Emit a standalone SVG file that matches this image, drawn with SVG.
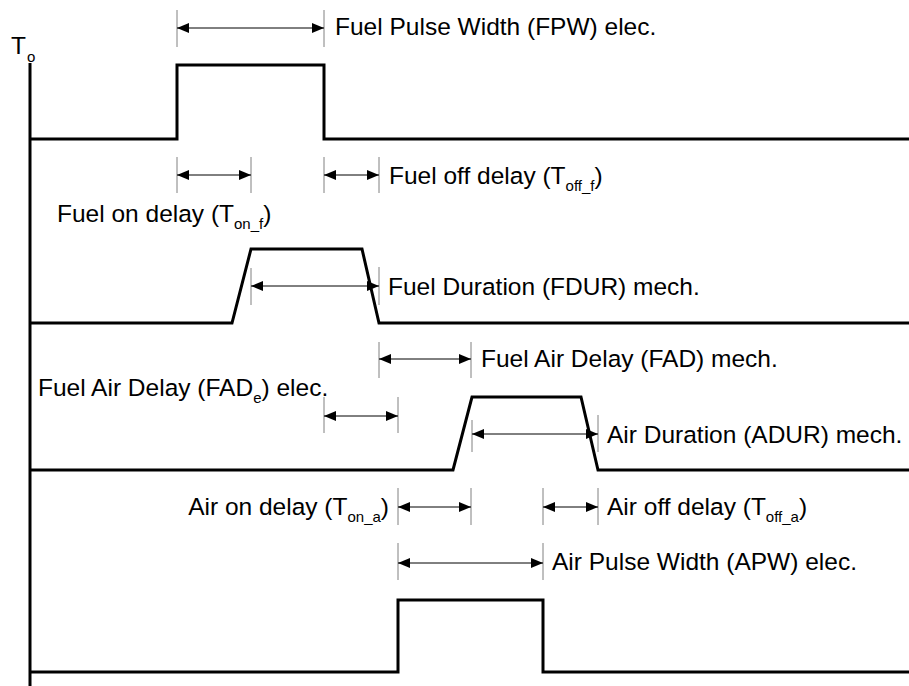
<svg xmlns="http://www.w3.org/2000/svg" width="909" height="686" viewBox="0 0 909 686">
<style>
.trace{fill:none;stroke:#000;stroke-width:3;stroke-linejoin:miter;stroke-linecap:butt}
.tick{stroke:#808080;stroke-width:1}
.dim{stroke:#000;stroke-width:1;marker-start:url(#ah);marker-end:url(#ah)}
text{font-family:"Liberation Sans",Arial,sans-serif;font-size:24.5px;fill:#000}
.sub{font-size:15px}
</style>
<defs>
<marker id="ah" viewBox="0 0 12 10" refX="12" refY="5" markerWidth="12" markerHeight="10" markerUnits="userSpaceOnUse" orient="auto-start-reverse">
<path d="M0,0 L12,5 L0,10 Z" fill="#000"/>
</marker>
</defs>
<rect width="909" height="686" fill="#fff"/>

<g id="axis">
<line x1="30" y1="63" x2="30" y2="686" stroke="#000" stroke-width="3"/>
<text x="11" y="54" font-size="22">T<tspan class="sub" dx="1" dy="8">o</tspan></text>
</g>

<g id="trace-fuel-elec">
<polyline class="trace" points="30,139 177,139 177,65 324,65 324,139 909,139"/>
</g>
<g id="trace-fuel-mech">
<polyline class="trace" points="30,323 232,323 251,249 362,249 379,323 909,323"/>
</g>
<g id="trace-air-mech">
<polyline class="trace" points="30,470 453,470 472,397 581,397 598,470 909,470"/>
</g>
<g id="trace-air-elec">
<polyline class="trace" points="30,672 398,672 398,600 543,600 543,672 909,672"/>
</g>

<g id="connectors">
<line class="tick" x1="177" y1="10" x2="177" y2="47"/>
<line class="tick" x1="324" y1="10" x2="324" y2="47"/>
<line class="dim" x1="177" y1="28" x2="324" y2="28"/>
<line class="tick" x1="177" y1="157" x2="177" y2="193"/>
<line class="tick" x1="251" y1="157" x2="251" y2="193"/>
<line class="dim" x1="177" y1="175" x2="251" y2="175"/>
<line class="tick" x1="324" y1="157" x2="324" y2="193"/>
<line class="tick" x1="379" y1="157" x2="379" y2="193"/>
<line class="dim" x1="324" y1="175" x2="379" y2="175"/>
<line class="tick" x1="251" y1="268" x2="251" y2="305"/>
<line class="tick" x1="379" y1="267" x2="379" y2="305"/>
<line class="dim" x1="251" y1="286" x2="379" y2="286"/>
<line class="tick" x1="379" y1="342" x2="379" y2="378"/>
<line class="tick" x1="471" y1="342" x2="471" y2="378"/>
<line class="dim" x1="379" y1="359" x2="471" y2="359"/>
<line class="tick" x1="324" y1="397" x2="324" y2="433"/>
<line class="tick" x1="398" y1="397" x2="398" y2="433"/>
<line class="dim" x1="324" y1="416" x2="398" y2="416"/>
<line class="tick" x1="472" y1="420" x2="472" y2="452"/>
<line class="tick" x1="598" y1="415" x2="598" y2="452"/>
<line class="dim" x1="472" y1="434" x2="598" y2="434"/>
<line class="tick" x1="398" y1="488" x2="398" y2="525"/>
<line class="tick" x1="471" y1="488" x2="471" y2="525"/>
<line class="dim" x1="398" y1="507" x2="471" y2="507"/>
<line class="tick" x1="543" y1="488" x2="543" y2="525"/>
<line class="tick" x1="598" y1="488" x2="598" y2="525"/>
<line class="dim" x1="543" y1="507" x2="598" y2="507"/>
<line class="tick" x1="398" y1="543" x2="398" y2="580"/>
<line class="tick" x1="543" y1="543" x2="543" y2="580"/>
<line class="dim" x1="398" y1="563" x2="543" y2="563"/>
</g>

<g id="labels">
<text x="335" y="35">Fuel Pulse Width (FPW) elec.</text>
<text x="389" y="184">Fuel off delay (T<tspan class="sub" dy="7">off_f</tspan><tspan dy="-7">)</tspan></text>
<text x="57" y="222">Fuel on delay (T<tspan class="sub" dy="7">on_f</tspan><tspan dy="-7">)</tspan></text>
<text x="388" y="295">Fuel Duration (FDUR) mech.</text>
<text x="481" y="367">Fuel Air Delay (FAD) mech.</text>
<text x="38" y="396">Fuel Air Delay (FAD<tspan class="sub" dy="7">e</tspan><tspan dy="-7">) elec.</tspan></text>
<text x="607" y="443">Air Duration (ADUR) mech.</text>
<text x="389" y="515" text-anchor="end">Air on delay (T<tspan class="sub" dy="7">on_a</tspan><tspan dy="-7">)</tspan></text>
<text x="607" y="515">Air off delay (T<tspan class="sub" dy="7">off_a</tspan><tspan dy="-7">)</tspan></text>
<text x="552" y="570">Air Pulse Width (APW) elec.</text>
</g>
</svg>
